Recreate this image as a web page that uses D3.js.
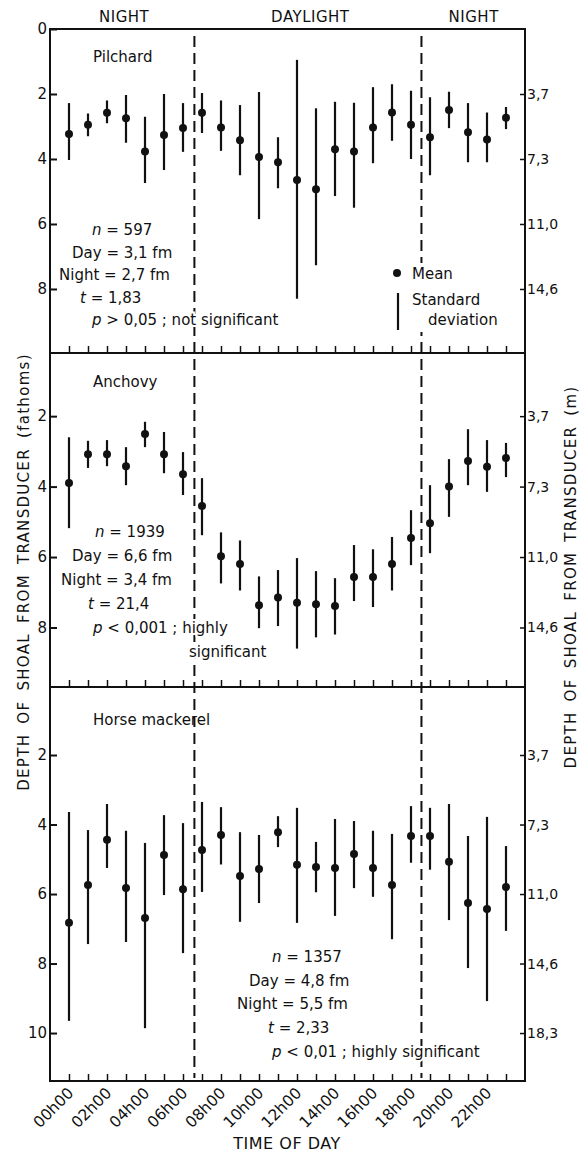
<!DOCTYPE html>
<html><head><meta charset="utf-8">
<script src="https://cdn.jsdelivr.net/npm/d3@7"></script>
<style>body{margin:0;background:#fff}svg{display:block}text{font-family:"DejaVu Sans",sans-serif;fill:#111}</style>
</head><body>
<script>
const hours = d3.range(0, 24);
const xTickLabels = ["00h00","02h00","04h00","06h00","08h00","10h00","12h00","14h00","16h00","18h00","20h00","22h00"];
const periodLabels = ["NIGHT","DAYLIGHT","NIGHT"];
const dawnDusk = [6.6, 18.55];
const species = ["Pilchard","Anchovy","Horse mackerel"];

const pilchardMean = [3.23,2.95,2.58,2.75,3.77,3.26,3.05,2.58,3.03,3.42,3.94,4.1,4.65,4.93,3.7,3.77,3.03,2.57,2.95,3.33,2.49,3.18,3.4,2.73];
const pilchardLo   = [2.28,2.6,2.2,2.03,2.7,2.0,2.28,1.97,2.2,2.34,1.94,3.33,0.95,2.44,2.24,2.27,1.79,1.7,1.9,2.1,1.93,2.28,2.57,2.4];
const pilchardHi   = [4.03,3.3,2.9,3.5,4.74,4.34,3.78,3.2,3.75,4.5,5.85,4.9,8.3,7.27,5.14,5.5,4.13,3.44,4.0,4.5,3.05,4.1,4.1,3.08];

const anchovyMean = [3.9,3.08,3.08,3.42,2.51,3.08,3.65,4.55,5.98,6.2,7.37,7.15,7.3,7.34,7.39,6.57,6.57,6.2,5.46,5.04,4.0,3.27,3.44,3.19];
const anchovyLo   = [2.6,2.7,2.68,2.88,2.16,2.45,3.02,3.76,5.3,5.53,6.55,6.37,6.03,6.4,6.6,5.66,5.78,5.43,4.67,3.96,3.22,2.37,2.68,2.76];
const anchovyHi   = [5.18,3.47,3.42,3.96,2.88,3.62,4.24,5.38,6.75,6.95,8.02,7.96,8.6,8.28,8.2,7.25,7.42,6.95,6.23,5.89,4.86,3.96,4.15,3.73];

const mackerelMean = [6.83,5.74,4.44,5.83,6.69,4.88,5.86,4.73,4.3,5.48,5.28,4.22,5.16,5.22,5.25,4.85,5.25,5.74,4.33,4.33,5.07,6.26,6.43,5.8];
const mackerelLo   = [3.64,4.16,3.41,4.18,4.53,3.73,3.96,3.35,3.5,4.22,4.3,3.76,3.52,4.5,3.84,3.9,4.18,4.27,3.47,3.52,3.41,4.33,3.78,4.62];
const mackerelHi   = [9.65,7.44,5.25,7.38,9.86,6.03,7.7,5.94,5.15,6.8,6.26,4.65,6.83,5.95,6.63,5.83,6.08,7.3,5.1,5.3,6.75,8.13,9.08,7.06];

const fathomTicks = [[0,2,4,6,8],[2,4,6,8],[2,4,6,8,10]];
const meterTicks = [[2,4,6,8],[2,4,6,8],[2,4,6,8,10]];
const meterLabels = ["3,7","7,3","11,0","14,6","18,3"];

const pilchardStats = [["n"," = 597"],["","Day = 3,1 fm"],["","Night = 2,7 fm"],["t"," = 1,83"],["p"," > 0,05 ; not significant"]];
const anchovyStats = [["n"," = 1939"],["","Day = 6,6 fm"],["","Night = 3,4 fm"],["t"," = 21,4"],["p"," < 0,001 ; highly"],["","significant"]];
const mackerelStats = [["n"," = 1357"],["","Day = 4,8 fm"],["","Night = 5,5 fm"],["t"," = 2,33"],["p"," < 0,01 ; highly significant"]];

const W = 584, H = 1156;
const svg = d3.select("body").append("svg").attr("width", W).attr("height", H);
const x = d3.scaleLinear().domain([-1, 24]).range([50, 525]);
const xl = x.range()[0], xr = x.range()[1];

const panels = [
  {name: species[0], mean: pilchardMean, lo: pilchardLo, hi: pilchardHi, dom:[0, 9.97], rng:[29,353], stats: pilchardStats,
   statX:[92,72,59,80,92], statY:235, statDy:22.5, labelY:62},
  {name: species[1], mean: anchovyMean, lo: anchovyLo, hi: anchovyHi, dom:[0.207, 9.69], rng:[353,687], stats: anchovyStats,
   statX:[95,72,61,88,93,189], statY:537, statDy:24, labelY:387},
  {name: species[2], mean: mackerelMean, lo: mackerelLo, hi: mackerelHi, dom:[0.043, 11.38], rng:[687,1081], stats: mackerelStats,
   statX:[272,249,237,268,272], statY:962, statDy:23.7, labelY:725}
];

const layerLines = svg.append("g");
const layerDash = svg.append("g");
const layerMarks = svg.append("g");

// dashed day/night lines (drawn under text)
dawnDusk.forEach(h => layerDash.append("line").attr("x1", x(h)).attr("x2", x(h)).attr("y1", 36).attr("y2", 1078)
  .attr("stroke", "#111").attr("stroke-width", 2).attr("stroke-dasharray", "11,6"));

panels.forEach((p, i) => {
  const y = d3.scaleLinear().domain(p.dom).range(p.rng);
  const g = layerMarks.append("g");
  // left axis
  const la = d3.axisLeft(y).tickValues(fathomTicks[i]).tickSize(-7).tickPadding(10).tickFormat(d3.format("d"));
  const lg = g.append("g").attr("transform", `translate(${xl},0)`).call(la);
  lg.select(".domain").remove();
  lg.selectAll("line").attr("stroke", "#111").attr("stroke-width", 2);
  lg.selectAll("text").attr("font-size", 15).attr("fill", "#111").attr("font-family", "DejaVu Sans").attr("x", -3);
  // right axis
  const ra = d3.axisRight(y).tickValues(meterTicks[i]).tickSize(-5).tickPadding(4)
    .tickFormat(d => meterLabels[fathomTicks[2].indexOf(d)]);
  const rg = g.append("g").attr("transform", `translate(${xr},0)`).call(ra);
  rg.select(".domain").remove();
  rg.selectAll("line").attr("stroke", "#111").attr("stroke-width", 1.5);
  rg.selectAll("text").attr("font-size", 14).attr("fill", "#111").attr("font-family", "DejaVu Sans").attr("x", 2);
  // bottom axis (hour ticks, inward)
  const ba = d3.axisBottom(x).tickValues(hours).tickSize(-7).tickFormat(i === 2 ? (d => d % 2 === 0 ? xTickLabels[d/2] : "") : (() => ""));
  const bg = g.append("g").attr("transform", `translate(0,${p.rng[1]})`).call(ba);
  bg.select(".domain").remove();
  bg.selectAll("line").attr("stroke", "#111").attr("stroke-width", 1.5);
  if (i === 2) {
    bg.selectAll("text").attr("font-size", 15.5).attr("fill", "#111").attr("font-family", "DejaVu Sans")
      .attr("text-anchor", "end").attr("dy", null).attr("y", 0)
      .attr("transform", "translate(5,13) rotate(-45)");
  }
  // species label
  g.append("text").attr("x", 93).attr("y", p.labelY).attr("font-size", 15).text(p.name);
  // error bars
  g.selectAll("line.sd").data(hours).join("line").attr("class", "sd")
    .attr("x1", d => x(d)).attr("x2", d => x(d))
    .attr("y1", d => y(p.lo[d])).attr("y2", d => y(p.hi[d]))
    .attr("stroke", "#111").attr("stroke-width", 2.2);
  g.selectAll("circle.mean").data(hours).join("circle").attr("class", "mean")
    .attr("cx", d => x(d)).attr("cy", d => y(p.mean[d])).attr("r", 4).attr("fill", "#111");
  // stats (white halo so the dashed lines break behind the text)
  p.stats.forEach((s, k) => {
    const t = g.append("text").attr("x", p.statX[k]).attr("y", p.statY + k * p.statDy).attr("font-size", 15)
      .attr("stroke", "#fff").attr("stroke-width", 4).attr("paint-order", "stroke");
    if (s[0]) t.append("tspan").attr("font-style", "italic").text(s[0]);
    t.append("tspan").text(s[1]);
  });
});

// frame
layerLines.append("rect").attr("x", xl).attr("y", 29).attr("width", xr - xl).attr("height", 1081 - 29)
  .attr("fill", "none").attr("stroke", "#111").attr("stroke-width", 2);
[353, 687].forEach(yy => layerLines.append("line").attr("x1", xl).attr("x2", xr).attr("y1", yy).attr("y2", yy)
  .attr("stroke", "#111").attr("stroke-width", 2));

// period labels
const periodX = [x(2.9), x(12.7), x(21.3)];
periodLabels.forEach((t, k) => svg.append("text").attr("x", periodX[k]).attr("y", 22).attr("text-anchor", "middle")
  .attr("font-size", 15).attr("letter-spacing", 0.5).text(t));

// legend (panel 1), with a white backing that interrupts the dashed line
svg.append("rect").attr("x", 407).attr("y", 263).attr("width", 95).attr("height", 69).attr("fill", "#fff");
svg.append("circle").attr("cx", 397).attr("cy", 273).attr("r", 4).attr("fill", "#111");
svg.append("text").attr("x", 412).attr("y", 279).attr("font-size", 15).text("Mean");
svg.append("line").attr("x1", 398).attr("x2", 398).attr("y1", 293).attr("y2", 330).attr("stroke", "#111").attr("stroke-width", 2.2);
svg.append("text").attr("x", 412).attr("y", 305).attr("font-size", 15).text("Standard");
svg.append("text").attr("x", 428).attr("y", 325).attr("font-size", 15).text("deviation");

// axis titles
svg.append("text").attr("transform", "translate(29,572) rotate(-90)").attr("text-anchor", "middle")
  .attr("font-size", 15).attr("letter-spacing", 1.3).attr("word-spacing", 4).text("DEPTH OF SHOAL FROM TRANSDUCER  (fathoms)");
svg.append("text").attr("transform", "translate(576,577) rotate(-90)").attr("text-anchor", "middle")
  .attr("font-size", 15).attr("letter-spacing", 1.3).attr("word-spacing", 4).text("DEPTH OF SHOAL FROM TRANSDUCER  (m)");
svg.append("text").attr("x", 287).attr("y", 1149).attr("text-anchor", "middle").attr("font-size", 16)
  .attr("letter-spacing", 0.5).text("TIME OF DAY");
</script>
</body></html>
